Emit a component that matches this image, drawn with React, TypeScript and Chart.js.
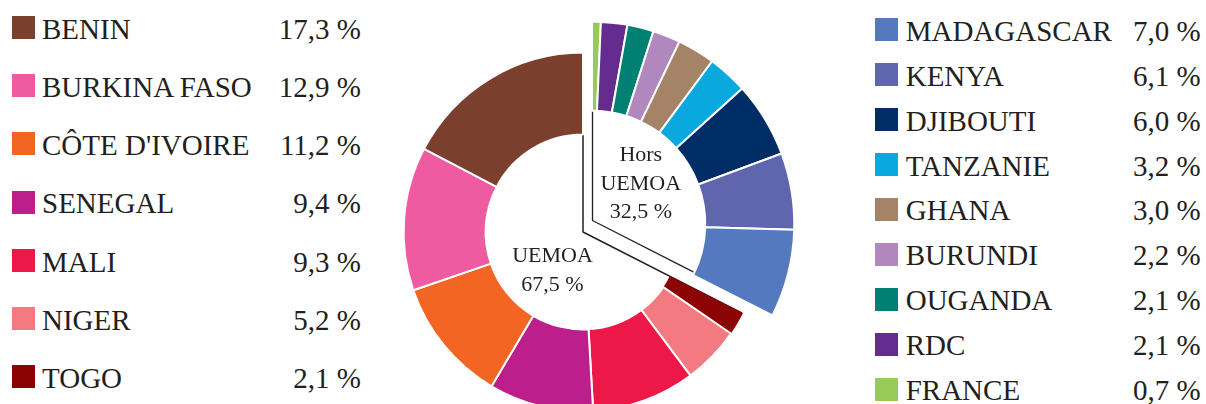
import React, { useEffect, useRef } from "react";
import { Chart, registerables } from "chart.js";

Chart.register(...registerables);

// ---- Data ----
const uemoaCountries = ["BENIN", "BURKINA FASO", "CÔTE D'IVOIRE", "SENEGAL", "MALI", "NIGER", "TOGO"];
const uemoaValues = [17.3, 12.9, 11.2, 9.4, 9.3, 5.2, 2.1];
const uemoaColors = ["#7B3F2E", "#EF5BA1", "#F26522", "#BC1E8C", "#ED1847", "#F27A80", "#8B0304"];

const horsCountries = ["MADAGASCAR", "KENYA", "DJIBOUTI", "TANZANIE", "GHANA", "BURUNDI", "OUGANDA", "RDC", "FRANCE"];
const horsValues = [7.0, 6.1, 6.0, 3.2, 3.0, 2.2, 2.1, 2.1, 0.7];
const horsColors = ["#5479BF", "#6066AE", "#002D66", "#09A9E0", "#A58366", "#B088BD", "#008073", "#652C90", "#97CB59"];

const groupLabels = ["UEMOA", "Hors UEMOA"];
const groupValues = [67.5, 32.5];

const TEXT = "#231F20";
const FONT = '"Liberation Serif", "Times New Roman", serif';
const CLEAR = "rgba(0,0,0,0)";

const fmt = (v: number) => v.toFixed(1).replace(".", ",") + " %";
const sum = (a: number[]) => a.reduce((s, x) => s + x, 0);

type LayerProps = {
  type: "doughnut" | "pie";
  labels: string[];
  data: number[];
  colors: string[];
  borderColor: string;
  borderWidths: number[];
  radius: number;
  cutout: string;
  left: number;
  top: number;
  size: number;
};

function Layer(p: LayerProps) {
  const ref = useRef<HTMLCanvasElement>(null);
  useEffect(() => {
    const chart = new Chart(ref.current as HTMLCanvasElement, {
      type: p.type,
      data: {
        labels: p.labels,
        datasets: [
          {
            data: p.data,
            backgroundColor: p.colors,
            borderColor: p.borderColor,
            borderWidth: p.borderWidths,
          },
        ],
      },
      options: {
        animation: false,
        responsive: false,
        maintainAspectRatio: false,
        devicePixelRatio: 1,
        radius: p.radius,
        cutout: p.cutout,
        events: [],
        layout: { padding: 0 },
        plugins: { legend: { display: false }, tooltip: { enabled: false }, title: { display: false } },
      } as any,
    });
    return () => chart.destroy();
  }, []);
  return (
    <canvas
      ref={ref}
      width={p.size}
      height={p.size}
      style={{ position: "absolute", left: p.left, top: p.top, width: p.size, height: p.size }}
    />
  );
}

function LegendRow(props: {
  color: string;
  label: string;
  value: number;
  swatchLeft: number;
  swatchTop: number;
  textLeft: number;
  capCenter: number;
  valueRight: number;
}) {
  const fs = 29;
  const lh = 34;
  const top = props.capCenter - 17.0;
  return (
    <>
      <div
        style={{
          position: "absolute",
          left: props.swatchLeft,
          top: props.swatchTop,
          width: 23,
          height: 23,
          background: props.color,
        }}
      />
      <div
        style={{
          position: "absolute",
          left: props.textLeft,
          top,
          fontFamily: FONT,
          fontSize: fs,
          lineHeight: lh + "px",
          color: TEXT,
          whiteSpace: "nowrap",
        }}
      >
        {props.label}
      </div>
      <div
        style={{
          position: "absolute",
          right: 1206 - props.valueRight,
          top,
          fontFamily: FONT,
          fontSize: fs,
          lineHeight: lh + "px",
          color: TEXT,
          whiteSpace: "nowrap",
          textAlign: "right",
        }}
      >
        {fmt(props.value)}
      </div>
    </>
  );
}

export default function App() {
  // ring order clockwise from 12 o'clock: Hors reversed, then UEMOA reversed
  const horsRev = [...horsValues].reverse();
  const horsColRev = [...horsColors].reverse();
  const horsLabRev = [...horsCountries].reverse();
  const uemRev = [...uemoaValues].reverse();
  const uemColRev = [...uemoaColors].reverse();
  const uemLabRev = [...uemoaCountries].reverse();
  const horsSum = sum(horsValues);
  const uemSum = sum(uemoaValues);

  const labelStyle: React.CSSProperties = {
    position: "absolute",
    width: 120,
    textAlign: "center",
    fontFamily: FONT,
    fontSize: 22,
    lineHeight: "28.5px",
    color: TEXT,
  };

  return (
    <div
      style={{
        position: "absolute",
        left: 0,
        top: 0,
        width: 1206,
        height: 404,
        overflow: "hidden",
        background: "#fff",
      }}
    >
      {/* group outlines (pies underneath) */}
      <Layer
        type="pie"
        labels={[groupLabels[1], groupLabels[0]]}
        data={[groupValues[1], groupValues[0]]}
        colors={[CLEAR, "#ffffff"]}
        borderColor={TEXT}
        borderWidths={[0, 1.5]}
        radius={178}
        cutout="0%"
        left={373}
        top={22}
        size={420}
      />
      <Layer
        type="pie"
        labels={[groupLabels[1], groupLabels[0]]}
        data={[groupValues[1], groupValues[0]]}
        colors={["#ffffff", CLEAR]}
        borderColor={TEXT}
        borderWidths={[1.3, 0]}
        radius={118}
        cutout="0%"
        left={462}
        top={90}
        size={261}
      />
      {/* UEMOA ring */}
      <Layer
        type="doughnut"
        labels={["Hors UEMOA", ...uemLabRev]}
        data={[horsSum, ...uemRev]}
        colors={[CLEAR, ...uemColRev]}
        borderColor="#ffffff"
        borderWidths={[0, 0, ...uemRev.slice(1).map(() => 2)]}
        radius={179.4}
        cutout="54.3%"
        left={373}
        top={22}
        size={420}
      />
      {/* Hors UEMOA ring (exploded) */}
      <Layer
        type="doughnut"
        labels={[...horsLabRev, "UEMOA"]}
        data={[...horsRev, uemSum]}
        colors={[...horsColRev, CLEAR]}
        borderColor="#ffffff"
        borderWidths={[...horsRev.map(() => 2), 0]}
        radius={202.3}
        cutout="56.0%"
        left={372}
        top={4}
        size={440}
      />

      {/* centre labels */}
      <div style={{ ...labelStyle, left: 552.5 - 60, top: 241.2 }}>
        UEMOA
        <br />
        {fmt(groupValues[0])}
      </div>
      <div style={{ ...labelStyle, left: 640.8 - 60, top: 140.4 }}>
        Hors
        <br />
        UEMOA
        <br />
        {fmt(groupValues[1])}
      </div>

      {/* left legend */}
      {uemoaCountries.map((c, i) => (
        <LegendRow
          key={c}
          color={uemoaColors[i]}
          label={c}
          value={uemoaValues[i]}
          swatchLeft={12}
          swatchTop={16 + 58.2 * i}
          textLeft={42}
          capCenter={28.7 + 58.2 * i}
          valueRight={361}
        />
      ))}
      {/* right legend */}
      {horsCountries.map((c, i) => (
        <LegendRow
          key={c}
          color={horsColors[i]}
          label={c}
          value={horsValues[i]}
          swatchLeft={875}
          swatchTop={18.3 + 44.9 * i}
          textLeft={905.7}
          capCenter={31.2 + 44.8 * i}
          valueRight={1200.7}
        />
      ))}
    </div>
  );
}
